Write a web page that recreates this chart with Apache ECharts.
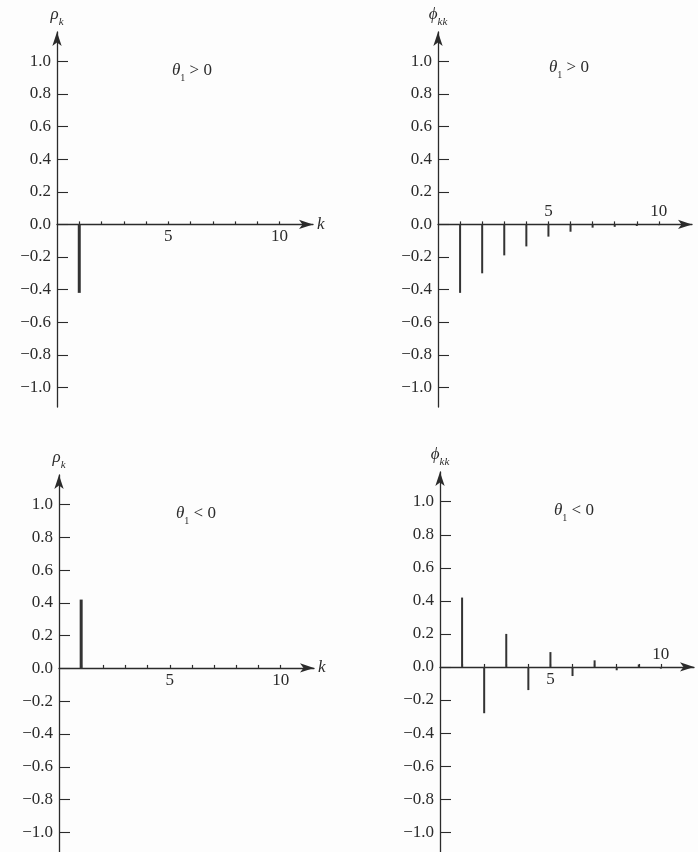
<!DOCTYPE html>
<html><head><meta charset="utf-8">
<script src="https://cdn.jsdelivr.net/npm/echarts@6/dist/echarts.min.js"></script>
<style>html,body{margin:0;padding:0;background:#fdfdfd}#c{width:698px;height:852px}</style>
</head><body><div id="c"></div>
<script>
// ---- data ----
const lags = [1, 2, 3, 4, 5, 6, 7, 8, 9, 10];
const acfLags = [1];
const acfThetaPos = [-0.42];
const pacfThetaPos = [-0.42, -0.30, -0.19, -0.135, -0.075, -0.045, -0.02, -0.015, -0.01, -0.005];
const acfThetaNeg = [0.42];
const pacfThetaNeg = [0.42, -0.28, 0.20, -0.14, 0.09, -0.055, 0.04, -0.02, 0.015, -0.01];
const yTickValues = [-1.0, -0.8, -0.6, -0.4, -0.2, 0.0, 0.2, 0.4, 0.6, 0.8, 1.0];
const xTickLabels = [5, 10];
const panelTitles = ['θ1 > 0', 'θ1 > 0', 'θ1 < 0', 'θ1 < 0'];
const yMin = -1.12, yMax = 1.18;

// ---- style ----
const FONT = '"Liberation Serif","DejaVu Serif",serif';
const INK = '#2b2b2b';
const FS = 17;

const grids = [
  {left: 57, top: 32, width: 256, height: 375},
  {left: 438, top: 32, width: 254, height: 375},
  {left: 59, top: 475, width: 255, height: 378},
  {left: 440, top: 472, width: 254, height: 380}
];

// offset that brings a bottom x axis up to the y = 0 line of its grid
function zeroOffset(gi) {
  return -grids[gi].height * (0 - yMin) / (yMax - yMin);
}

function yAx(gi, sym, sub) {
  return {
    type: 'value', gridIndex: gi, min: yMin, max: yMax,
    axisLine: {show: true, onZero: false, symbol: ['none', 'arrow'], symbolSize: [7, 14],
      lineStyle: {color: INK, width: 1.3}},
    axisTick: {show: true, inside: true, length: 11, customValues: yTickValues,
      lineStyle: {color: INK, width: 1.1}},
    axisLabel: {customValues: yTickValues, margin: 6, color: INK, fontFamily: FONT, fontSize: FS,
      formatter: v => (v < 0 ? '\u2212' : '') + Math.abs(v).toFixed(1)},
    splitLine: {show: false},
    name: '{a|' + sym + '}{b|' + sub + '}', nameLocation: 'end', nameGap: 4,
    nameTextStyle: {rich: {
      a: {fontFamily: FONT, fontStyle: 'italic', fontSize: 17, color: INK, padding: [0, 0, 5, 0]},
      b: {fontFamily: FONT, fontStyle: 'italic', fontSize: 11, color: INK, verticalAlign: 'bottom'}
    }}
  };
}

function xAx(gi, labels, inside, withLine, name) {
  return {
    type: 'value', gridIndex: gi, min: 0, max: 11.5, position: 'bottom', offset: zeroOffset(gi),
    axisLine: {show: withLine, onZero: false, symbol: ['none', 'arrow'],
      symbolSize: [7, 14], lineStyle: {color: INK, width: 1.3}},
    axisTick: {show: withLine, inside: true, length: 3, customValues: lags,
      lineStyle: {color: INK, width: 1.2}},
    axisLabel: {customValues: labels, inside: inside, margin: 4, color: INK,
      fontFamily: FONT, fontSize: FS},
    splitLine: {show: false},
    name: name || '', nameLocation: 'end', nameGap: 4,
    nameTextStyle: {fontFamily: FONT, fontStyle: 'italic', fontSize: 17, color: INK}
  };
}

function stems(xi, yi, ks, vals, w) {
  return {
    type: 'bar', xAxisIndex: xi, yAxisIndex: yi, barWidth: w,
    data: ks.map((k, i) => [k, vals[i]]),
    itemStyle: {color: '#333'}, silent: true, animation: false
  };
}

function titleAt(i, left, top) {
  const t = panelTitles[i];
  return {
    left: left, top: top, padding: 0,
    text: '{t|' + t[0] + '}{s|' + t[1] + '}{n|' + t.slice(2) + '}',
    textStyle: {fontWeight: 'normal', rich: {
      t: {fontFamily: FONT, fontStyle: 'italic', fontWeight: 'normal', fontSize: 17, color: INK, padding: [0, 0, 4, 0]},
      s: {fontFamily: FONT, fontWeight: 'normal', fontSize: 10, color: INK, verticalAlign: 'bottom'},
      n: {fontFamily: FONT, fontWeight: 'normal', fontSize: 17, color: INK, padding: [0, 0, 4, 0]}
    }}
  };
}

const chart = echarts.init(document.getElementById('c'), null, {renderer: 'canvas'});
chart.setOption({
  backgroundColor: '#fdfdfd',
  animation: false,
  title: [titleAt(0, 172, 62), titleAt(1, 549, 59), titleAt(2, 176, 505), titleAt(3, 554, 502)],
  grid: grids,
  yAxis: [yAx(0, 'ρ', 'k'), yAx(1, 'ϕ', 'kk'), yAx(2, 'ρ', 'k'), yAx(3, 'ϕ', 'kk')],
  xAxis: [
    xAx(0, xTickLabels, false, true, 'k'),
    xAx(1, xTickLabels, true, true, ''),
    xAx(2, xTickLabels, false, true, 'k'),
    xAx(3, [5], false, true, ''),
    xAx(3, [10], true, false, '')
  ],
  series: [
    stems(0, 0, acfLags, acfThetaPos, 3),
    stems(1, 1, lags, pacfThetaPos, 2),
    stems(2, 2, acfLags, acfThetaNeg, 3),
    stems(3, 3, lags, pacfThetaNeg, 2)
  ]
});
</script>
</body></html>
